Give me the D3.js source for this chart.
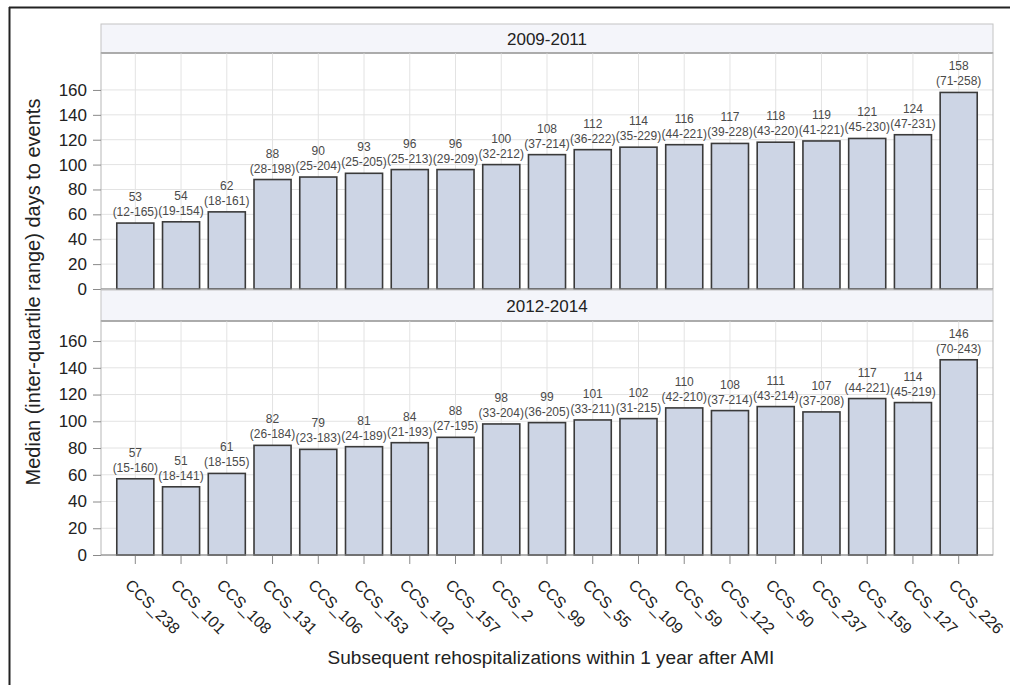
<!DOCTYPE html>
<html>
<head>
<meta charset="utf-8">
<script src="https://cdn.jsdelivr.net/npm/d3@7"></script>
<style>
  html, body { margin: 0; padding: 0; background: #fff; }
  svg { display: block; font-family: "Liberation Sans", Arial, sans-serif; }
</style>
</head>
<body>
<svg id="chart" width="1010" height="685"></svg>
<script>
// Rehospitalization categories (x axis)
const categories = ["CCS_238","CCS_101","CCS_108","CCS_131","CCS_106","CCS_153","CCS_102","CCS_157","CCS_2","CCS_99","CCS_55","CCS_109","CCS_59","CCS_122","CCS_50","CCS_237","CCS_159","CCS_127","CCS_226"];

// 2009-2011 medians and inter-quartile bounds (days)
const median0911 = [53,54,62,88,90,93,96,96,100,108,112,114,116,117,118,119,121,124,158];
const q1_0911    = [12,19,18,28,25,25,25,29,32,37,36,35,44,39,43,41,45,47,71];
const q3_0911    = [165,154,161,198,204,205,213,209,212,214,222,229,221,228,220,221,230,231,258];

// 2012-2014 medians and inter-quartile bounds (days)
const median1214 = [57,51,61,82,79,81,84,88,98,99,101,102,110,108,111,107,117,114,146];
const q1_1214    = [15,18,18,26,23,24,21,27,33,36,33,31,42,37,43,37,44,45,70];
const q3_1214    = [160,141,155,184,183,189,193,195,204,205,211,215,210,214,214,208,221,219,243];

const periods = ["2009-2011", "2012-2014"];
const yTicks = [0,20,40,60,80,100,120,140,160];

const panels = [
  { title: periods[0], median: median0911, q1: q1_0911, q3: q3_0911, stripTop: 24, top: 53, bottom: 289, yMax: 189.7 },
  { title: periods[1], median: median1214, q1: q1_1214, q3: q3_1214, stripTop: 290, top: 321, bottom: 555, yMax: 175 }
];

const svg = d3.select("#chart");
const left = 101, right = 993;

// outer frame (top and left edges)
svg.append("line").attr("x1", 9).attr("x2", 1010).attr("y1", 7.5).attr("y2", 7.5)
  .attr("stroke", "#222").attr("stroke-width", 2);
svg.append("line").attr("x1", 9.5).attr("x2", 9.5).attr("y1", 7).attr("y2", 685)
  .attr("stroke", "#222").attr("stroke-width", 2);

const x = d3.scaleBand().domain(categories).range([left, right])
  .paddingInner(0.19).paddingOuter(0.345);

panels.forEach((p, pi) => {
  const y = d3.scaleLinear().domain([0, p.yMax]).range([p.bottom, p.top]);
  const g = svg.append("g");

  // strip header
  g.append("rect").attr("x", left).attr("y", p.stripTop).attr("width", right - left)
    .attr("height", p.top - p.stripTop).attr("fill", "#f4f5fa").attr("stroke", "#c4c4c4");
  g.append("line").attr("x1", left).attr("x2", right).attr("y1", p.top).attr("y2", p.top)
    .attr("stroke", "#8a8a8a").attr("stroke-width", 1.5);
  g.append("text").attr("x", (left + right) / 2).attr("y", (p.stripTop + p.top) / 2)
    .attr("dy", "0.36em").attr("text-anchor", "middle").attr("font-size", 17)
    .attr("fill", "#222").text(p.title);

  // gridlines
  g.append("g").selectAll("line").data(yTicks.slice(1)).join("line")
    .attr("x1", left).attr("x2", right)
    .attr("y1", d => y(d)).attr("y2", d => y(d))
    .attr("stroke", "#e3e3e3").attr("stroke-width", 1);
  g.append("g").selectAll("line").data(categories).join("line")
    .attr("x1", d => x(d) + x.bandwidth() / 2).attr("x2", d => x(d) + x.bandwidth() / 2)
    .attr("y1", p.top).attr("y2", p.bottom)
    .attr("stroke", "#e3e3e3").attr("stroke-width", 1);

  // plot frame
  g.append("rect").attr("x", left).attr("y", p.top).attr("width", right - left)
    .attr("height", p.bottom - p.top).attr("fill", "none").attr("stroke", "#b8b8b8");

  // y axis
  const yAxis = g.append("g").attr("transform", `translate(${left},0)`)
    .call(d3.axisLeft(y).tickValues(yTicks).tickSize(8).tickPadding(6));
  yAxis.select(".domain").remove();
  yAxis.selectAll(".tick line").attr("stroke", "#8a8a8a");
  yAxis.selectAll(".tick text").attr("font-size", 17).attr("fill", "#222")
    .attr("font-family", "Liberation Sans, Arial, sans-serif");

  // bars
  const idx = d3.range(categories.length);
  g.append("g").selectAll("rect").data(idx).join("rect")
    .attr("x", i => x(categories[i]))
    .attr("width", x.bandwidth())
    .attr("y", i => y(p.median[i]))
    .attr("height", i => y(0) - y(p.median[i]))
    .attr("fill", "#cdd5e5").attr("stroke", "#3a3a3a").attr("stroke-width", 1.6);

  // baseline
  g.append("line").attr("x1", left).attr("x2", right).attr("y1", y(0)).attr("y2", y(0))
    .attr("stroke", "#8a8a8a");

  // value labels: median over (Q1-Q3)
  const lab = g.append("g").attr("font-size", 12).attr("fill", "#4a4a4a").attr("text-anchor", "middle");
  lab.selectAll("text.med").data(idx).join("text").attr("class", "med")
    .attr("x", i => x(categories[i]) + x.bandwidth() / 2)
    .attr("y", i => y(p.median[i]) - 22)
    .text(i => p.median[i]);
  lab.selectAll("text.iqr").data(idx).join("text").attr("class", "iqr")
    .attr("x", i => x(categories[i]) + x.bandwidth() / 2)
    .attr("y", i => y(p.median[i]) - 7)
    .text(i => `(${p.q1[i]}-${p.q3[i]})`);

  // x axis only on the bottom panel
  if (pi === panels.length - 1) {
    const xa = g.append("g");
    xa.selectAll("line").data(categories).join("line")
      .attr("x1", d => x(d) + x.bandwidth() / 2).attr("x2", d => x(d) + x.bandwidth() / 2)
      .attr("y1", p.bottom + 1).attr("y2", p.bottom + 9)
      .attr("stroke", "#8a8a8a");
    xa.selectAll("text").data(categories).join("text")
      .attr("transform", d => `translate(${x(d) + x.bandwidth() / 2 - 11},${p.bottom + 31}) rotate(45)`)
      .attr("text-anchor", "start").attr("font-size", 16).attr("fill", "#222")
      .text(d => d);
  }
});

// axis titles
svg.append("text").attr("x", 551).attr("y", 664).attr("text-anchor", "middle")
  .attr("font-size", 19).attr("fill", "#222")
  .text("Subsequent rehospitalizations within 1 year after AMI");
svg.append("text").attr("transform", "translate(40,292) rotate(-90)")
  .attr("text-anchor", "middle").attr("font-size", 20).attr("fill", "#222")
  .text("Median (inter-quartile range) days to events");
</script>
</body>
</html>
